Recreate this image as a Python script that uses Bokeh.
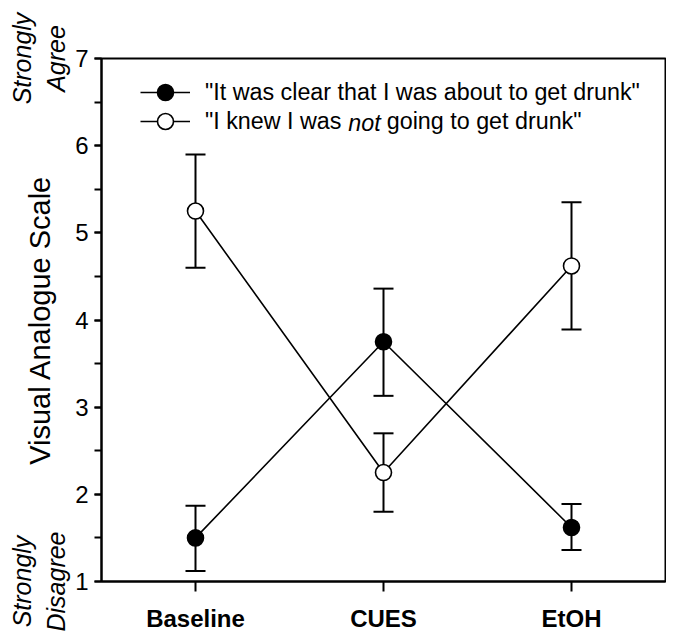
import math
from bokeh.plotting import figure
from bokeh.models import (Range1d, FixedTicker, SingleIntervalTicker, Whisker, TeeHead,
                          ColumnDataSource, Legend, LegendItem, Label, LinearAxis)
from bokeh.embed import file_html
from bokeh.resources import INLINE

categories = ["Baseline", "CUES", "EtOH"]
xpos = [1, 2, 3]
clear_mean = [1.50, 3.75, 1.62]
clear_upper = [1.87, 4.36, 1.89]
clear_lower = [1.12, 3.13, 1.36]
not_mean = [5.25, 2.25, 4.62]
not_upper = [5.90, 2.70, 5.35]
not_lower = [4.60, 1.80, 3.89]
anchor_ticks = [1, 7]
anchor_labels = ["Strongly\nDisagree", "Strongly\nAgree"]

FONT = "Liberation Sans"

p = figure(width=666, height=634, x_range=Range1d(0.5, 3.5), y_range=Range1d(1, 7),
           output_backend="svg", toolbar_location=None,
           min_border_left=101, min_border_right=1, min_border_top=58, min_border_bottom=51)
p.grid.visible = False
p.outline_line_color = "black"
p.outline_line_width = 2
p.background_fill_color = "white"
p.border_fill_color = "white"

# x axis
p.xaxis.ticker = FixedTicker(ticks=xpos)
p.xaxis.major_label_overrides = {x: c for x, c in zip(xpos, categories)}
p.xaxis.major_label_text_font = FONT
p.xaxis.major_label_text_font_style = "bold"
p.xaxis.major_label_text_font_size = "24px"
p.xaxis.major_label_text_color = "black"
p.xaxis.major_tick_in = 0
p.xaxis.major_tick_out = 10
p.xaxis.minor_tick_out = 0
p.xaxis.minor_tick_in = 0
p.xaxis.major_label_standoff = 13
p.xaxis.axis_line_width = 2
p.xaxis.major_tick_line_width = 2

# main y axis
p.yaxis.ticker = SingleIntervalTicker(interval=1, num_minor_ticks=2)
p.yaxis.major_label_text_font = FONT
p.yaxis.major_label_text_font_size = "24px"
p.yaxis.major_label_text_color = "black"
p.yaxis.major_tick_in = 0
p.yaxis.major_tick_out = 7
p.yaxis.minor_tick_in = 0
p.yaxis.minor_tick_out = 7
p.yaxis.major_label_standoff = 6
p.yaxis.axis_line_width = 2
p.yaxis.major_tick_line_width = 2
p.yaxis.minor_tick_line_width = 2

# outer axis: anchor texts + title
ax2 = LinearAxis(ticker=FixedTicker(ticks=anchor_ticks),
                 major_label_overrides={t: s for t, s in zip(anchor_ticks, anchor_labels)},
                 major_label_orientation="vertical",
                 axis_line_color=None, major_tick_line_color=None, minor_tick_line_color=None,
                 major_tick_in=0, major_tick_out=0, minor_tick_in=0, minor_tick_out=0,
                 major_label_standoff=3,
                 major_label_text_font=FONT, major_label_text_font_size="25px",
                 major_label_text_font_style="italic", major_label_text_color="black",
                 axis_label="Visual Analogue Scale", axis_label_standoff=-51,
                 axis_label_text_font=FONT, axis_label_text_font_size="29px",
                 axis_label_text_font_style="normal", axis_label_text_color="black")
p.add_layout(ax2, "left")

src1 = ColumnDataSource(dict(x=xpos, y=clear_mean, upper=clear_upper, lower=clear_lower))
src2 = ColumnDataSource(dict(x=xpos, y=not_mean, upper=not_upper, lower=not_lower))

for src in (src1, src2):
    w = Whisker(base="x", upper="upper", lower="lower", source=src, dimension="height",
                line_width=2, line_color="black", level="underlay",
                upper_head=TeeHead(size=20, line_width=2, line_color="black"),
                lower_head=TeeHead(size=20, line_width=2, line_color="black"))
    p.add_layout(w)

l1 = p.line("x", "y", source=src1, line_width=1.6, line_color="black")
l2 = p.line("x", "y", source=src2, line_width=1.6, line_color="black")
s1 = p.scatter("x", "y", source=src1, marker="circle", size=16, fill_color="black",
               line_color="black", line_width=1.6)
s2 = p.scatter("x", "y", source=src2, marker="circle", size=16, fill_color="white",
               line_color="black", line_width=1.6)

nb = "\u00a0"
label1 = '"It was clear that I was about to get drunk"'
label2 = '"I knew I was ' + nb * 5 + ' going to get drunk"'

def make_legend(label, rends, loc):
    return Legend(items=[LegendItem(label=label, renderers=rends)],
                  location=loc, padding=0, spacing=0, margin=0,
                  glyph_width=50, glyph_height=40, label_height=40, label_standoff=15,
                  border_line_color=None, background_fill_alpha=0,
                  label_text_font=FONT, label_text_font_size="23.3px", label_text_color="black")

p.add_layout(make_legend(label1, [l1, s1], (39, 469)))
p.add_layout(make_legend(label2, [l2, s2], (39, 440)))

p.add_layout(Label(x=1.8126, y=6.258, text="not", text_font=FONT, text_font_size="23.3px",
                   text_font_style="italic", text_align="left", text_baseline="middle",
                   text_color="black"))

open("out.html", "w").write(file_html(p, INLINE))
